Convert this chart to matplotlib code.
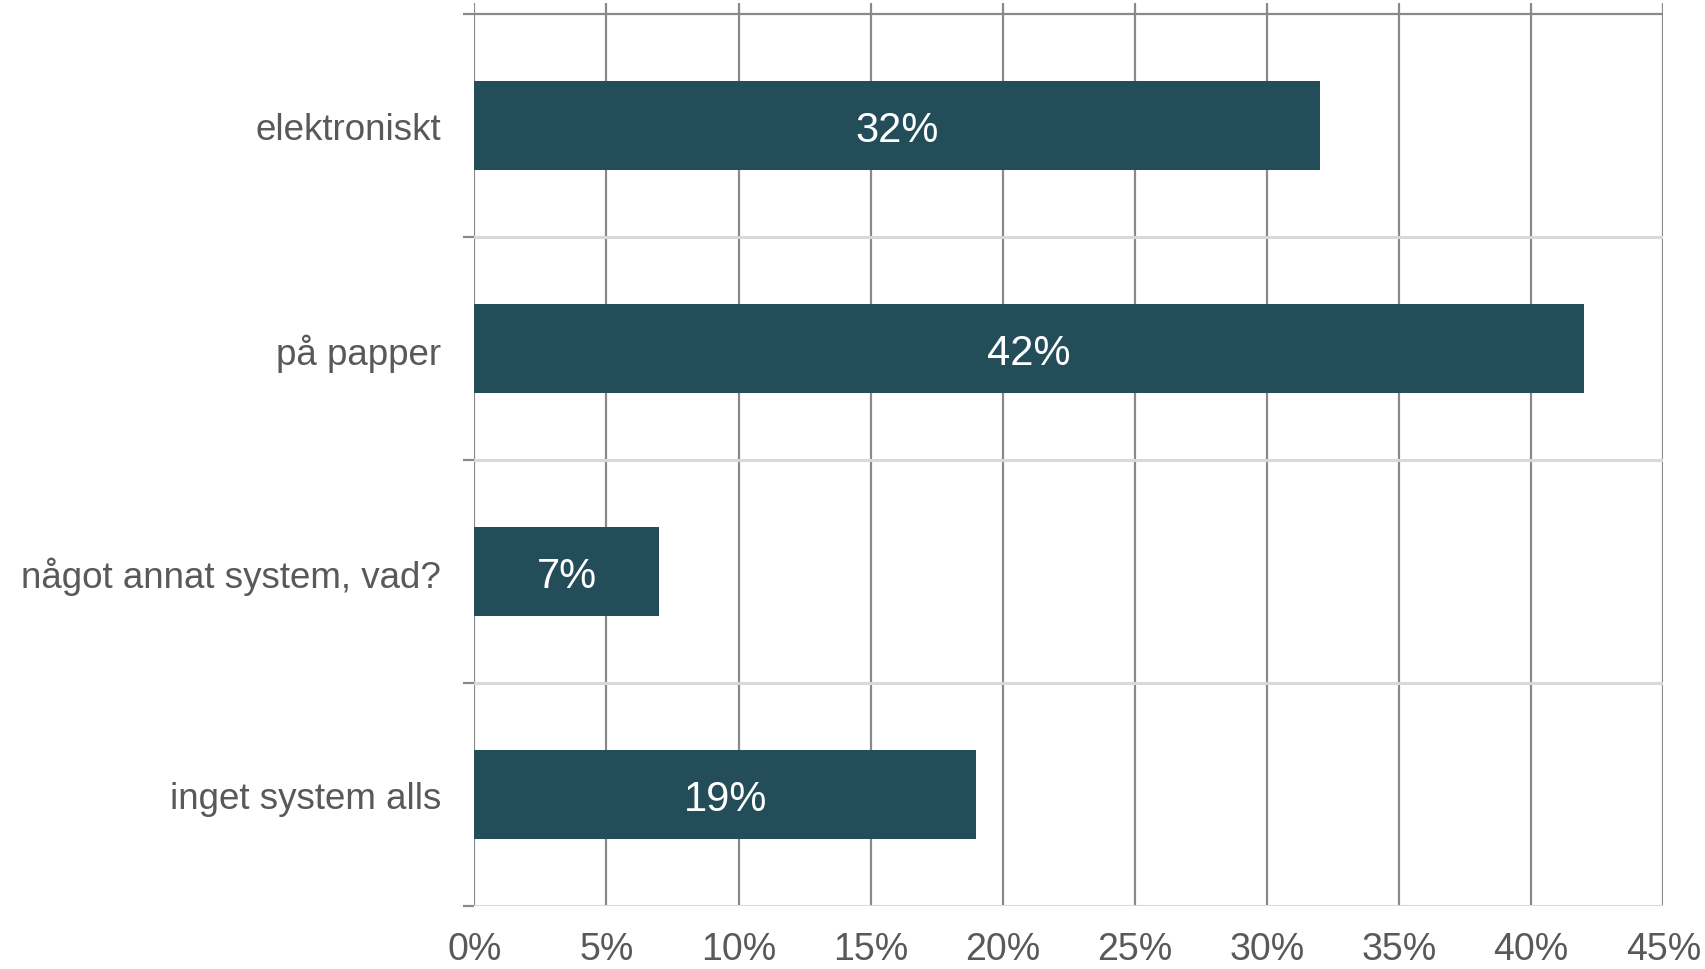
import numpy as np
import matplotlib.pyplot as plt
from matplotlib.ticker import FixedLocator, PercentFormatter

categories = ["elektroniskt", "på papper", "något annat system, vad?", "inget system alls"]
values = [0.32, 0.42, 0.07, 0.19]
x_ticks = [0, 0.05, 0.10, 0.15, 0.20, 0.25, 0.30, 0.35, 0.40, 0.45]

bar_color = "#244d5a"
text_gray = "#595959"
grid_dark = "#898989"
grid_light = "#d9d9d9"

plt.rcParams["font.family"] = ["Liberation Sans", "DejaVu Sans"]

fig = plt.figure(figsize=(17.06, 9.70), dpi=100)
ax = fig.add_axes([0.278, 0.065, 0.975 - 0.278, 0.9959 - 0.065])

y = np.arange(len(categories))
bars = ax.barh(y, values, height=0.4, color=bar_color, zorder=3)
for b, v in zip(bars, values):
    ax.text(b.get_width() / 2, b.get_y() + b.get_height() / 2, f"{v * 100:.0f}%",
            ha="center", va="center_baseline", color="white", fontsize=30, zorder=4)

ax.set_xlim(0, 0.45)
ax.set_ylim(3.5, -0.55)
ax.xaxis.set_major_locator(FixedLocator(x_ticks))
ax.xaxis.set_major_formatter(PercentFormatter(1.0, decimals=0))
ax.grid(axis="x", color=grid_dark, linewidth=1.6, zorder=1)

# kategorigränser
bounds = np.arange(len(categories) + 1) - 0.5
for i, yb in enumerate(bounds):
    ax.axhline(yb, color=grid_dark if i == 0 else grid_light,
               linewidth=1.6 if i == 0 else 2.2, zorder=2)

ax.set_yticks(y)
ax.set_yticklabels(categories)
ax.yaxis.set_minor_locator(FixedLocator(bounds))
ax.tick_params(axis="y", which="major", length=0, pad=24, labelsize=26.5, labelcolor=text_gray)
ax.tick_params(axis="y", which="minor", length=8, width=1.6, color=grid_dark)
ax.tick_params(axis="x", length=0, pad=18, labelsize=27, labelcolor=text_gray)

for s in ax.spines.values():
    s.set_visible(False)

fig.savefig("out.png", dpi=100, facecolor="white")
